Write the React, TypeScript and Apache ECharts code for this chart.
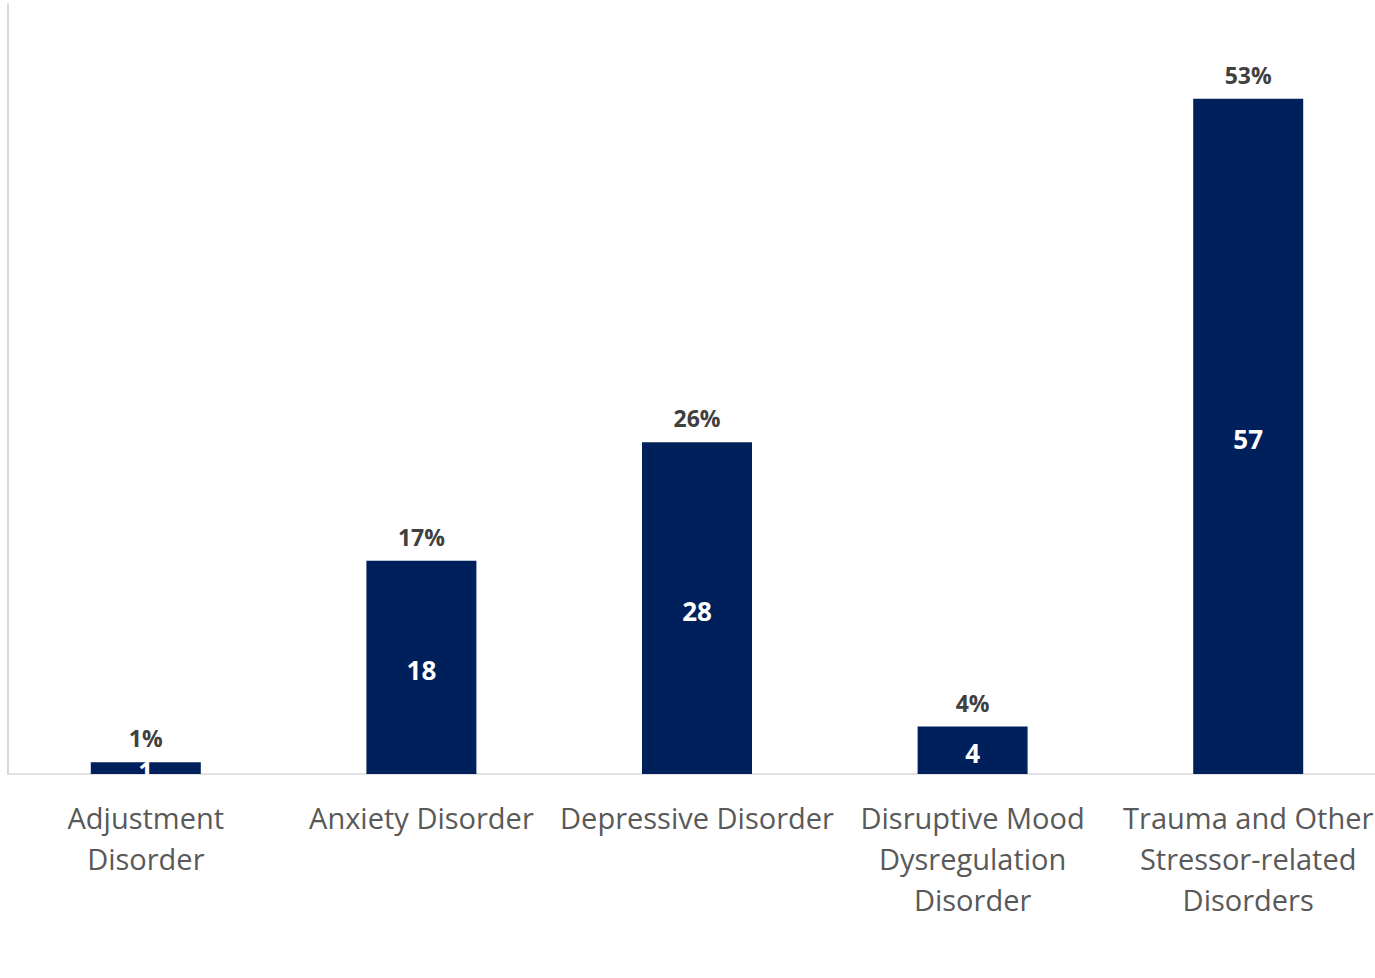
import React, { useEffect, useRef } from "react";
import * as echarts from "echarts";

const categories = [
  "Adjustment\nDisorder",
  "Anxiety Disorder",
  "Depressive Disorder",
  "Disruptive Mood\nDysregulation\nDisorder",
  "Trauma and Other\nStressor-related\nDisorders",
];
const counts = [1, 18, 28, 4, 57];
const percents = ["1%", "17%", "26%", "4%", "53%"];

export default function App() {
  const ref = useRef<HTMLDivElement>(null);
  useEffect(() => {
    if (!ref.current) return;
    const chart = echarts.init(ref.current, null, { renderer: "svg" });
    chart.setOption({
      animation: false,
      backgroundColor: "#ffffff",
      grid: { left: 8, right: 0, top: 4, bottom: 204, containLabel: false },
      xAxis: {
        type: "category",
        data: categories,
        axisLine: { show: true, lineStyle: { color: "#d9d9d9", width: 1.5 } },
        axisTick: { show: false },
        axisLabel: {
          color: "#595959",
          fontFamily: "Open Sans",
          fontSize: 29,
          lineHeight: 41,
          margin: 23,
          interval: 0,
        },
      },
      yAxis: {
        type: "value",
        min: 0,
        max: 65,
        axisLine: { show: true, lineStyle: { color: "#d9d9d9", width: 2 } },
        axisTick: { show: false },
        axisLabel: { show: false },
        splitLine: { show: false },
      },
      series: [
        {
          type: "bar",
          data: counts,
          barWidth: 110,
          itemStyle: { color: "#00205b" },
          label: {
            show: true,
            position: "inside",
            color: "#ffffff",
            fontFamily: "Open Sans",
            fontWeight: "bold",
            fontSize: 26,
            lineHeight: 20,
            offset: [0, 3],
          },
          z: 2,
        },
        {
          type: "bar",
          data: counts,
          barWidth: 110,
          barGap: "-100%",
          itemStyle: { color: "rgba(0,0,0,0)" },
          label: {
            show: true,
            position: "top",
            distance: 10,
            color: "#404040",
            fontFamily: "Open Sans",
            fontWeight: "bold",
            fontSize: 23,
            lineHeight: 24,
            offset: [0, -2],
            formatter: (p: any) => percents[p.dataIndex],
          },
          z: 3,
        },
      ],
    });
    return () => chart.dispose();
  }, []);
  return (
    <div
      style={{
        position: "fixed",
        left: 0,
        top: 0,
        width: 1375,
        height: 978,
        overflow: "hidden",
        background: "#fbf8f5",
      }}
    >
      <div ref={ref} style={{ position: "absolute", left: 0, top: 0, width: 1386, height: 978 }} />
    </div>
  );
}
